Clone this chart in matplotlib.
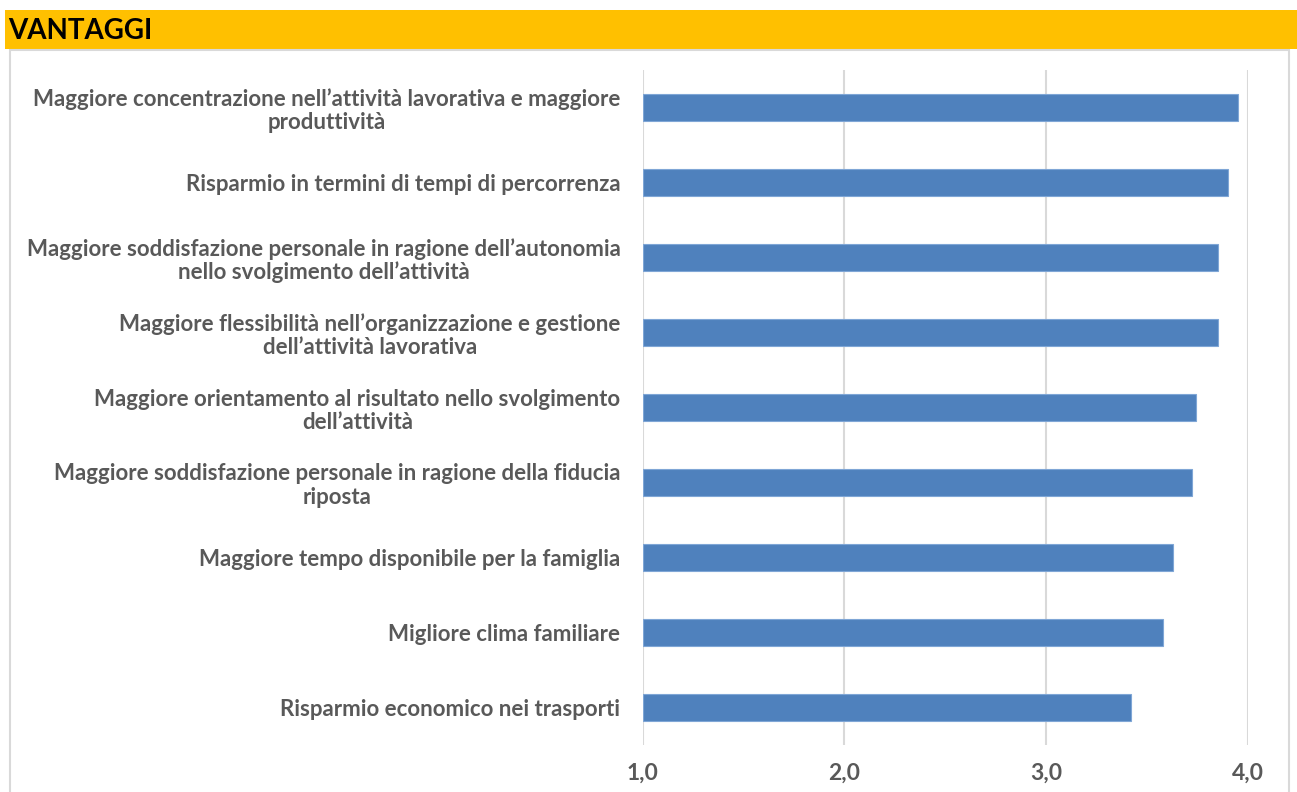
import matplotlib
matplotlib.use("Agg")
import matplotlib.pyplot as plt
from matplotlib.patches import Rectangle

categories = [
    "Maggiore concentrazione nell\u2019attività lavorativa e maggiore\nproduttività",
    "Risparmio in termini di tempi di percorrenza",
    "Maggiore soddisfazione personale in ragione dell\u2019autonomia\nnello svolgimento dell\u2019attività",
    "Maggiore flessibilità nell\u2019organizzazione e gestione\ndell\u2019attività lavorativa",
    "Maggiore orientamento al risultato nello svolgimento\ndell\u2019attività",
    "Maggiore soddisfazione personale in ragione della fiducia\nriposta",
    "Maggiore tempo disponibile per la famiglia",
    "Migliore clima familiare",
    "Risparmio economico nei trasporti",
]
values = [3.95, 3.90, 3.85, 3.85, 3.74, 3.72, 3.63, 3.58, 3.42]
xticks = [1.0, 2.0, 3.0, 4.0]
xtick_labels = ["1,0", "2,0", "3,0", "4,0"]
title = "VANTAGGI"

W, H = 1297, 792
fig = plt.figure(figsize=(W / 100, H / 100), dpi=100)
fig.patch.set_facecolor("white")

# yellow header band
fig.patches.append(Rectangle((5 / W, 1 - 49 / H), (W - 5) / W, 39 / H,
                             transform=fig.transFigure, facecolor="#FFC000",
                             edgecolor="none", zorder=0))
fig.text(8 / W, 1 - 31 / H, title, transform=fig.transFigure, fontsize=20,
         fontweight="bold", family=["Lato", "DejaVu Sans"], color="black",
         ha="left", va="center")

# chart frame border
fig.patches.append(Rectangle((10 / W, -0.05), (1289 - 10) / W, 1 - 50 / H + 0.05,
                             transform=fig.transFigure, facecolor="none",
                             edgecolor="#D9D9D9", linewidth=1.5, zorder=1))

ax = fig.add_axes([642.7 / W, 1 - 745 / H, (1248 - 642.7) / W, (745 - 70) / H])
ax.set_facecolor("none")
ypos = list(range(len(categories)))
ax.barh(ypos, [v - 1.0 for v in values], left=1.0, height=0.36,
        color="#4F81BD", edgecolor="#7FA6D6", linewidth=0.8, zorder=3)
ax.set_xlim(1.0, 4.0)
ax.set_ylim(len(categories) - 0.5, -0.5)
ax.set_xticks(xticks)
ax.set_xticklabels(xtick_labels)
ax.set_yticks(ypos)
ax.set_yticklabels(categories)
for s in ax.spines.values():
    s.set_visible(False)
ax.grid(axis="x", color="#D9D9D9", linewidth=1.5, zorder=0)
ax.tick_params(axis="both", length=0)
ax.tick_params(axis="x", pad=13)
ax.tick_params(axis="y", pad=16)
for lbl in ax.get_xticklabels():
    lbl.set_fontfamily(["Lato", "DejaVu Sans"])
    lbl.set_fontweight("bold")
    lbl.set_fontsize(16.5)
    lbl.set_color("#595959")
for lbl in ax.get_yticklabels():
    lbl.set_fontfamily(["Lato", "DejaVu Sans"])
    lbl.set_fontweight("bold")
    lbl.set_fontsize(16)
    lbl.set_color("#595959")
    lbl.set_multialignment("center")
    lbl.set_linespacing(1.12)

fig.savefig("out.png", dpi=100)
